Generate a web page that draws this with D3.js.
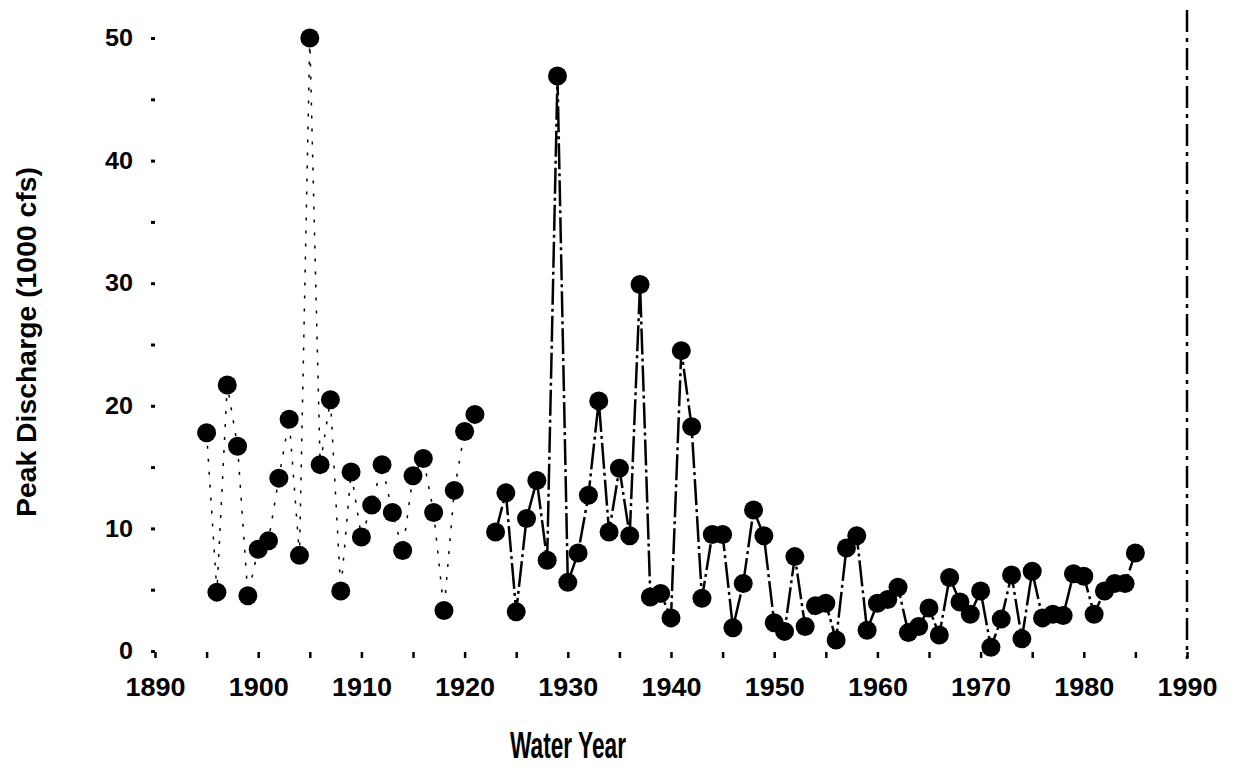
<!DOCTYPE html>
<html>
<head>
<meta charset="utf-8">
<script src="https://cdn.jsdelivr.net/npm/d3@7"></script>
<style>
  html, body { margin: 0; padding: 0; background: #fff; overflow: hidden; }
  text { font-family: "Liberation Sans Narrow", "Liberation Sans", "DejaVu Sans Condensed", sans-serif; font-weight: bold; fill: #000; }
</style>
</head>
<body>
<svg id="chart" width="1235" height="774"></svg>
<script>
// Water years of record (1922 missing)
const years = d3.range(1895, 1986);
const values = [
  17.8, 4.8, 21.7, 16.7, 4.5,            // 1895-1899
  8.3, 9.0, 14.1, 18.9, 7.8,             // 1900-1904
  50.0, 15.2, 20.5, 4.9, 14.6,           // 1905-1909
  9.3, 11.9, 15.2, 11.3, 8.2,            // 1910-1914
  14.3, 15.7, 11.3, 3.3, 13.1,           // 1915-1919
  17.9, 19.3, null, 9.7, 12.9,           // 1920-1924
  3.2, 10.8, 13.9, 7.4, 46.9,            // 1925-1929
  5.6, 8.0, 12.7, 20.4, 9.7,             // 1930-1934
  14.9, 9.4, 29.9, 4.4, 4.7,             // 1935-1939
  2.7, 24.5, 18.3, 4.3, 9.5,             // 1940-1944
  9.5, 1.9, 5.5, 11.5, 9.4,              // 1945-1949
  2.3, 1.6, 7.7, 2.0, 3.7,               // 1950-1954
  3.9, 0.9, 8.4, 9.4, 1.7,               // 1955-1959
  3.9, 4.2, 5.2, 1.5, 2.0,               // 1960-1964
  3.5, 1.3, 6.0, 4.0, 3.0,               // 1965-1969
  4.9, 0.3, 2.6, 6.2, 1.0,               // 1970-1974
  6.5, 2.7, 3.0, 2.9, 6.3,               // 1975-1979
  6.1, 3.0, 4.9, 5.5, 5.5,               // 1980-1984
  8.0                                    // 1985
];
const xTicks = d3.range(1890, 1991, 5);
const xTickLabels = d3.range(1890, 1991, 10);
const yTicks = d3.range(0, 51, 5);
const yTickLabels = [0, 10, 20, 30, 40, 50];
const xTitle = "Water Year";
const yTitle = "Peak Discharge (1000 cfs)";

const data = years.map((yr, i) => ({ year: yr, value: values[i] }));
const gap = years.indexOf(1922);
const earlyRecord = data.slice(0, gap);
const laterRecord = data.slice(gap + 1);

const svg = d3.select("#chart");
svg.append("rect").attr("width", 1235).attr("height", 774).attr("fill", "#fff");

const x = d3.scaleLinear().domain([1890, 1990]).range([155, 1187]);
const y = d3.scaleLinear().domain([0, 50]).range([651, 38]);

// x axis: ticks every 5 years, labels every decade
const xAxis = svg.append("g")
  .attr("transform", "translate(0,652)")
  .call(d3.axisBottom(x)
    .tickValues(xTicks)
    .tickSize(6)
    .tickPadding(20)
    .tickFormat(d => xTickLabels.includes(d) ? String(d) : ""));
xAxis.select(".domain").remove();
xAxis.selectAll(".tick line").attr("stroke", "#000").attr("stroke-width", 2.5);
xAxis.selectAll(".tick text")
  .attr("font-size", 26)
  .attr("textLength", d => xTickLabels.includes(d) ? 60 : null)
  .attr("lengthAdjust", "spacingAndGlyphs");

// y axis: ticks every 5 units, labels every 10
const yAxis = svg.append("g")
  .attr("transform", "translate(155,0)")
  .call(d3.axisLeft(y)
    .tickValues(yTicks)
    .tickSize(4)
    .tickPadding(18)
    .tickFormat(d => yTickLabels.includes(d) ? String(d) : ""));
yAxis.select(".domain").remove();
yAxis.selectAll(".tick line").attr("stroke", "#000").attr("stroke-width", 3);
yAxis.selectAll(".tick text")
  .attr("font-size", 24)
  .attr("textLength", d => yTickLabels.includes(d) ? String(d).length * 14 : null)
  .attr("lengthAdjust", "spacingAndGlyphs");

// right frame at 1990
svg.append("line")
  .attr("x1", x(1990)).attr("x2", x(1990))
  .attr("y1", 10).attr("y2", y(0) + 8)
  .attr("stroke", "#000").attr("stroke-width", 2.5)
  .attr("stroke-dasharray", "22,6,4,6");

const line = d3.line()
  .defined(d => d.value != null)
  .x(d => x(d.year))
  .y(d => y(d.value));

// early record, faint connecting line
svg.append("path")
  .datum(earlyRecord)
  .attr("d", line)
  .attr("fill", "none")
  .attr("stroke", "#000")
  .attr("stroke-width", 1.5)
  .attr("stroke-dasharray", "3,10");

// continuous record from 1923
svg.append("path")
  .datum(laterRecord)
  .attr("d", line)
  .attr("fill", "none")
  .attr("stroke", "#000")
  .attr("stroke-width", 2.5)
  .attr("stroke-dasharray", "26,4,3,4");

svg.append("g")
  .selectAll("circle")
  .data(data.filter(d => d.value != null))
  .join("circle")
  .attr("cx", d => x(d.year))
  .attr("cy", d => y(d.value))
  .attr("r", 9.5)
  .attr("fill", "#000");

// axis titles
svg.append("text")
  .attr("x", 568).attr("y", 758)
  .attr("text-anchor", "middle")
  .attr("font-size", 36)
  .attr("textLength", 116)
  .attr("lengthAdjust", "spacingAndGlyphs")
  .text(xTitle);

svg.append("text")
  .attr("transform", "translate(36,342) rotate(-90)")
  .attr("text-anchor", "middle")
  .attr("font-size", 28)
  .attr("textLength", 350)
  .attr("lengthAdjust", "spacingAndGlyphs")
  .text(yTitle);
</script>
</body>
</html>
